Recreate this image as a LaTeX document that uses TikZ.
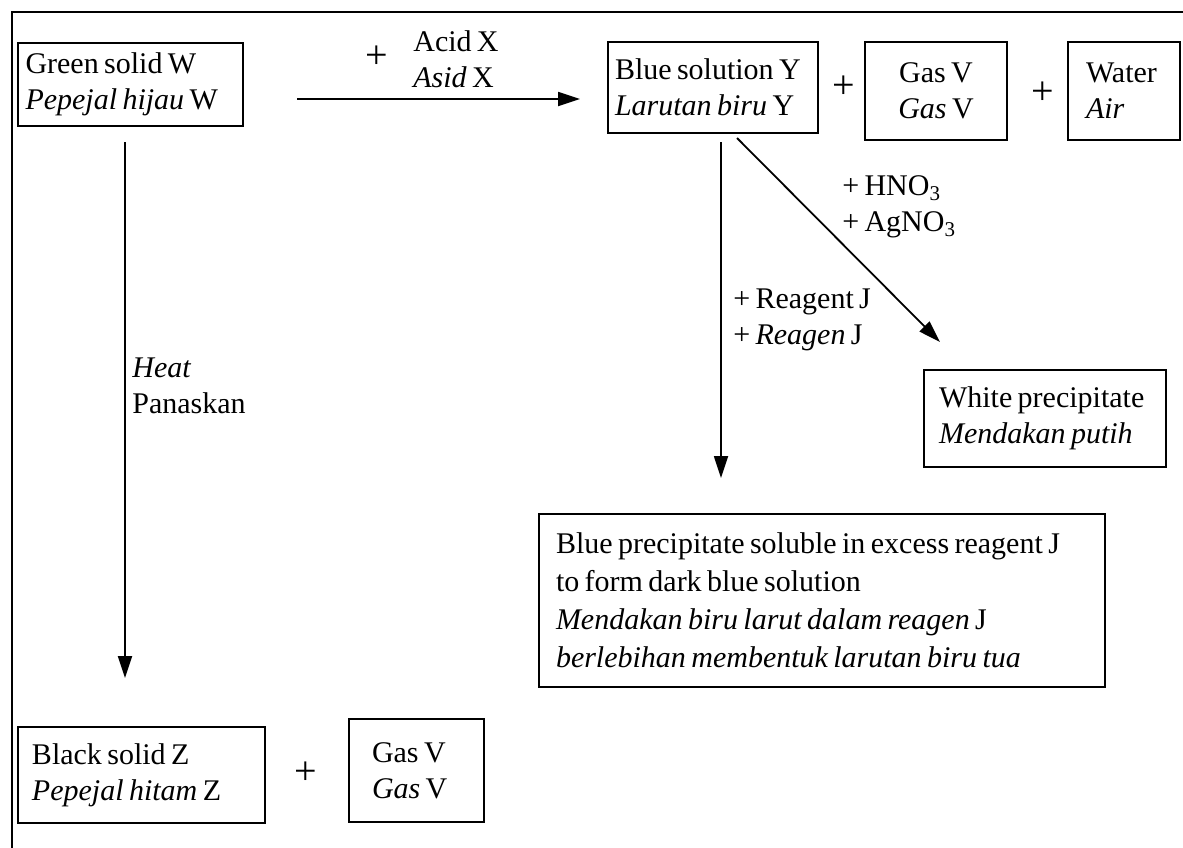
\documentclass[tikz,border=0pt]{standalone}
\usepackage{fontspec}
\setmainfont[WordSpace=0.7]{Liberation Serif}
\usetikzlibrary{arrows.meta}

\begin{document}
\begin{tikzpicture}[x=0.5pt,y=-0.5pt,
    every node/.style={font=\fontsize{15}{18}\selectfont},
    box/.style={draw,line width=0.9pt,inner sep=0pt,align=left,
      execute at begin node={\spaceskip=0.18em\relax}},
    arr/.style={line width=0.9pt,-{Triangle[length=11pt,width=7pt]}},
    lbl/.style={inner sep=0pt,align=left,anchor=west},
    plus/.style={font=\fontsize{20}{20}\selectfont}]
      \useasboundingbox (0,0) rectangle (1183,847);
      \draw[line width=1.3pt] (12,850) -- (12,12) -- (1186,12);

      \node[box,minimum width=112.5pt,minimum height=41.5pt,text width=105pt] (W) at (130.5,84.5) {Green solid W\\\textit{Pepejal hijau} W};
      \node[box,minimum width=105pt,minimum height=45.5pt,text width=98pt] (Y) at (713,87.5) {Blue solution Y\\\textit{Larutan biru} Y};
      \node[box,minimum width=71pt,minimum height=49pt,text width=60pt,align=center] (V) at (936,91) {Gas V\\\textit{Gas} V};
      \node[box,minimum width=56pt,minimum height=49pt,text width=38pt] (Aq) at (1124,91) {Water\\\textit{Air}};
      \node[box,minimum width=121pt,minimum height=48.5pt,text width=106pt] (P) at (1045,418.5) {White precipitate\\\textit{Mendakan putih}};
      \node[box,minimum width=283pt,minimum height=86.5pt,text width=266pt,font=\fontsize{15}{19}\selectfont] (Q) at (822,600.5) {Blue precipitate soluble in excess reagent J\\to form dark blue solution\\\textit{Mendakan biru larut dalam reagen} J\\\textit{berlebihan membentuk larutan biru tua}};
      \node[box,minimum width=123.5pt,minimum height=48pt,text width=109.5pt] (Z) at (141.5,775) {Black solid Z\\\textit{Pepejal hitam} Z};
      \node[box,minimum width=67.5pt,minimum height=51.5pt,text width=44.5pt] (V2) at (416.5,770.5) {Gas V\\\textit{Gas} V};

      \node[plus] (p1) at (377,57) {+};
      \node[plus] (p2) at (844,87) {+};
      \node[plus] (p3) at (1043,93) {+};
      \node[plus] (p4) at (306,773) {+};

      \node[lbl] (acid) at (413,59) {Acid X\\\textit{Asid} X};
      \node[lbl] (hno) at (842,207) {+ HNO\textsubscript{3}\\+ AgNO\textsubscript{3}};
      \node[lbl] (rj) at (733,320) {+ Reagent J\\+ \textit{Reagen} J};
      \node[lbl] (heat) at (132,386) {\textit{Heat}\\Panaskan};

      \coordinate (A) at (297,99);
      \coordinate (B) at (580,99);
      \coordinate (C) at (125,142);
      \coordinate (D) at (125,678);
      \coordinate (E) at (721,142);
      \coordinate (F) at (721,478);
      \coordinate (G) at (737,138);
      \coordinate (H) at (940,342);

      \draw[arr] (A) -- (B);
      \draw[arr] (C) -- (D);
      \draw[arr] (E) -- (F);
      \draw[arr] (G) -- (H);
\end{tikzpicture}
\end{document}
